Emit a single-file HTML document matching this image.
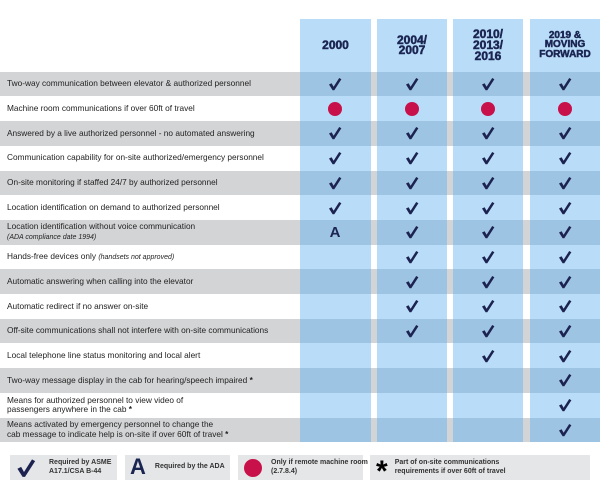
<!DOCTYPE html>
<html><head><meta charset="utf-8"><style>
*{margin:0;padding:0;box-sizing:border-box}
body{width:600px;height:494px;background:#fff;position:relative;overflow:hidden;font-family:"Liberation Sans",sans-serif;color:#1d2447}
.col{position:absolute;top:19px;height:423px;background:#b9ddf8}
.hd{position:absolute;top:19px;height:52px;display:flex;align-items:center;justify-content:center;text-align:center;font-weight:bold;color:#1b2552;line-height:10px}
.hd span{font-weight:bold;-webkit-text-stroke:0.5px #1b2552}
.row{position:absolute;left:0;width:600px;height:24.7px}
.g{background:linear-gradient(to right,#d3d4d6 0,#d3d4d6 300px,#9ec4e4 300px,#9ec4e4 371px,#d3d4d6 371px,#d3d4d6 377px,#9ec4e4 377px,#9ec4e4 447px,#d3d4d6 447px,#d3d4d6 453px,#9ec4e4 453px,#9ec4e4 523px,#d3d4d6 523px,#d3d4d6 530px,#9ec4e4 530px)}
.t{position:absolute;left:7px;top:0;height:100%;display:flex;flex-direction:column;justify-content:center;font-size:8.3px;line-height:9.5px;color:#222}
.t i{font-size:7px}
.m{position:absolute;top:0;height:100%;width:70px;display:flex;align-items:center;justify-content:center}
.dot{width:14px;height:14px;border-radius:50%;background:#c8104a;flex-shrink:0}
.A{font-weight:bold;font-size:15px;color:#1b2552}
.leg{position:absolute;top:455px;height:25px;background:#e5e6e8;display:flex;align-items:center;font-size:7px;font-weight:bold;color:#333;line-height:8.5px;white-space:nowrap}
</style></head><body>
<div class="col" style="left:300px;width:71px"></div>
<div class="col" style="left:377px;width:70px"></div>
<div class="col" style="left:453px;width:70px"></div>
<div class="col" style="left:530px;width:70px"></div>
<div class="hd" style="left:300px;width:71px;font-size:12px"><span>2000</span></div>
<div class="hd" style="left:377px;width:70px;font-size:12px"><span>2004/<br>2007</span></div>
<div class="hd" style="left:453px;width:70px;font-size:12px;line-height:11px"><span>2010/<br>2013/<br>2016</span></div>
<div class="hd" style="left:530px;width:70px;font-size:10px;line-height:9.5px"><span>2019 &amp;<br>MOVING<br>FORWARD</span></div>
<svg width="0" height="0" style="position:absolute"><defs><symbol id="ck" viewBox="0 0 14 14"><path d="M1 7.5 L3.6 6.2 L5.6 9.8 L11.2 1 L13.4 2.2 L6.3 13.2 L4.6 13.2 Z" fill="#1d2350"/></symbol></defs></svg>
<div id="rows"></div>
<script>
var R=[
["Two-way communication between elevator &amp; authorized personnel","cccc"],
["Machine room communications if over 60ft of travel","dddd"],
["Answered by a live authorized personnel - no automated answering","cccc"],
["Communication capability for on-site authorized/emergency personnel","cccc"],
["On-site monitoring if staffed 24/7 by authorized personnel","cccc"],
["Location identification on demand to authorized personnel","cccc"],
["Location identification without voice communication<br><i>(ADA compliance date 1994)</i>","accc"],
["Hands-free devices only <i>(handsets not approved)</i>","-ccc"],
["Automatic answering when calling into the elevator","-ccc"],
["Automatic redirect if no answer on-site","-ccc"],
["Off-site communications shall not interfere with on-site communications","-ccc"],
["Local telephone line status monitoring and local alert","--cc"],
["Two-way message display in the cab for hearing/speech impaired <b>*</b>","---c"],
["Means for authorized personnel to view video of<br>passengers anywhere in the cab <b>*</b>","---c"],
["Means activated by emergency personnel to change the<br>cab message to indicate help is on-site if over 60ft of travel <b>*</b>","---c"]];
var X=[300,377,453,530],h="";
R.forEach(function(r,i){
h+='<div class="row'+(i%2==0?' g':'')+'" style="top:'+(71.7+i*24.7)+'px"><div class="t"><div>'+r[0]+'</div></div>';
for(var j=0;j<4;j++){var c=r[1][j];if(c=='-')continue;
h+='<div class="m" style="left:'+X[j]+'px">'+(c=='c'?'<svg width="14" height="14"><use href="#ck"/></svg>':c=='d'?'<div class="dot"></div>':'<span class="A">A</span>')+'</div>';}
h+='</div>';});
document.getElementById('rows').innerHTML=h;
</script>
<div class="leg" style="left:10px;width:107px"><svg width="20" height="20" style="margin:0 13px 0 6px;flex-shrink:0"><use href="#ck"/></svg><span>Required by ASME<br>A17.1/CSA B-44</span></div>
<div class="leg" style="left:125px;width:105px"><span style="font-size:22px;font-weight:bold;color:#1b2552;margin:0 9px 0 5px">A</span><span>Required by the ADA</span></div>
<div class="leg" style="left:238px;width:125px"><div class="dot" style="width:18px;height:18px;margin:0 9px 0 6px"></div><span>Only if remote machine room<br>(2.7.8.4)</span></div>
<div class="leg" style="left:370px;width:220px"><span style="font-size:30px;font-weight:bold;color:#000;margin:10px 7px 0 6px">*</span><span>Part of on-site communications<br>requirements if over 60ft of travel</span></div>
</body></html>
